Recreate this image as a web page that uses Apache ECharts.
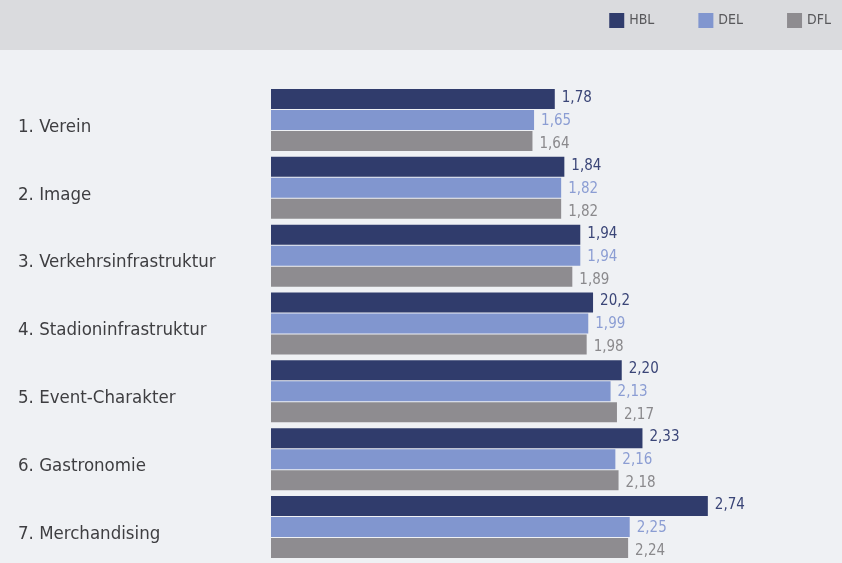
<!DOCTYPE html>
<html>
<head>
<meta charset="utf-8">
<script src="https://cdn.jsdelivr.net/npm/echarts@6/dist/echarts.min.js"></script>
<style>
  html, body { margin: 0; padding: 0; background: #eff1f4; }
  #chart { width: 842px; height: 563px; }
</style>
</head>
<body>
<div id="chart"></div>
<script>
const categories = [
  "1. Verein",
  "2. Image",
  "3. Verkehrsinfrastruktur",
  "4. Stadioninfrastruktur",
  "5. Event-Charakter",
  "6. Gastronomie",
  "7. Merchandising"
];
const hblValues = [1.78, 1.84, 1.94, 2.02, 2.20, 2.33, 2.74];
const delValues = [1.65, 1.82, 1.94, 1.99, 2.13, 2.16, 2.25];
const dflValues = [1.64, 1.82, 1.89, 1.98, 2.17, 2.18, 2.24];
// printed labels (as in the original, incl. "20,2")
const hblLabels = ["1,78", "1,84", "1,94", "20,2", "2,20", "2,33", "2,74"];
const delLabels = ["1,65", "1,82", "1,94", "1,99", "2,13", "2,16", "2,25"];
const dflLabels = ["1,64", "1,82", "1,89", "1,98", "2,17", "2,18", "2,24"];

const FONT = '"DejaVu Sans Condensed", "Liberation Sans Narrow", sans-serif';

const chart = echarts.init(document.getElementById("chart"));

const makeSeries = (name, data, labels, color, labelColor, dy) => ({
  name: name,
  type: "bar",
  data: data,
  barWidth: 20,
  barGap: "5%",
  itemStyle: { color: color },
  label: {
    show: true,
    position: "right",
    distance: 7,
    offset: [0, dy],
    fontFamily: FONT,
    fontSize: 15,
    color: labelColor,
    formatter: (p) => labels[p.dataIndex]
  }
});

const option = {
  animation: false,
  backgroundColor: "#eff1f4",
  graphic: [
    {
      type: "rect",
      left: 0,
      top: 0,
      z: -10,
      shape: { width: 842, height: 50 },
      style: { fill: "#dadbde" }
    }
  ],
  legend: {
    right: 6,
    top: 8,
    itemWidth: 15,
    itemHeight: 15,
    itemGap: 44,
    icon: "rect",
    textStyle: { fontFamily: FONT, fontSize: 14, color: "#58585b" },
    data: ["HBL", "DEL", "DFL"]
  },
  grid: {
    left: 271,
    top: 86,
    width: 558,
    height: 475
  },
  xAxis: {
    type: "value",
    min: 0,
    max: 3.5,
    show: false
  },
  yAxis: {
    type: "category",
    inverse: true,
    data: categories,
    axisLine: { show: false },
    axisTick: { show: false },
    axisLabel: {
      align: "left",
      verticalAlign: "top",
      lineHeight: 14,
      margin: 253,
      fontFamily: FONT,
      fontSize: 18.5,
      color: "#3e3e41"
    }
  },
  series: [
    makeSeries("HBL", hblValues, hblLabels, "#303c6c", "#3a4577", -1),
    makeSeries("DEL", delValues, delLabels, "#8196cf", "#8b9dd3", 1),
    makeSeries("DFL", dflValues, dflLabels, "#8e8c90", "#8a898c", 3)
  ]
};

chart.setOption(option);
window.addEventListener("resize", () => chart.resize());
</script>
</body>
</html>
